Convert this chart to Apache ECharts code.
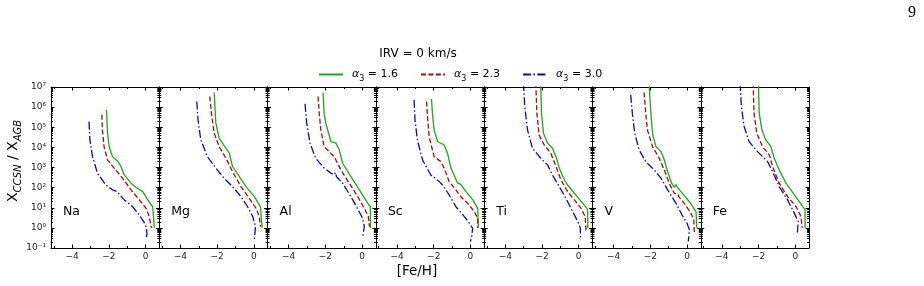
<!DOCTYPE html>
<html>
<head>
<meta charset="utf-8">
<script src="https://cdn.jsdelivr.net/npm/echarts@6/dist/echarts.min.js"></script>
<style>
  html, body { margin: 0; background: #fff; }
  #chart { width: 924px; height: 286px; }
</style>
</head>
<body>
<div id="chart"></div>
<script>
// panels, legend values, ticks
const elements = ['Na', 'Mg', 'Al', 'Sc', 'Ti', 'V', 'Fe'];
const alphaVals = ['1.6', '2.3', '3.0'];
const xMajorTicks = [-4, -2, 0];
const xMinorTicks = [-5, -3, -1];

// curves: [ [Fe/H], log10(X_CCSN / X_AGB) ]
const naG = [[-2.13,5.87],[-2.07,4.7],[-1.98,4.04],[-1.8,3.54],[-1.5,3.3],[-1.43,3.24],[-1.34,3.05],[-1.16,2.63],[-0.79,2.22],[-0.52,2.02],[-0.15,1.8],[0.12,1.39],[0.39,1.05],[0.48,0.97],[0.48,0]];
const naR = [[-2.38,5.62],[-2.35,4.87],[-2.26,4.04],[-2.07,3.38],[-1.71,2.97],[-1.25,2.47],[-0.79,1.89],[-0.34,1.39],[0.03,0.97],[0.21,0.56],[0.3,0.06],[0.35,0]];
const naB = [[-3.08,5.28],[-3.03,4.37],[-2.89,3.54],[-2.62,2.72],[-2.16,2.13],[-1.8,1.89],[-1.55,1.8],[-1.5,1.85],[-1.45,1.72],[-1.16,1.39],[-0.7,1.05],[-0.34,0.64],[-0.1,0.31],[0.03,0.06],[0.08,-0.27],[0.03,-0.57]];

const mgG = [[-2.16,6.73],[-2.07,5.2],[-1.89,4.46],[-1.52,3.96],[-1.34,3.71],[-1.16,3.05],[-0.79,2.55],[-0.43,2.05],[0.03,1.55],[0.36,1.05],[0.45,0.97],[0.45,0]];
const mgR = [[-2.4,6.53],[-2.31,5.7],[-2.16,4.7],[-1.89,4.04],[-1.52,3.46],[-1.16,2.8],[-0.7,2.05],[-0.25,1.47],[0.12,0.97],[0.3,0.56],[0.36,0.06]];
const mgB = [[-3.11,6.28],[-3.04,5.37],[-2.89,4.37],[-2.53,3.54],[-2.07,2.97],[-1.62,2.47],[-1.16,2.05],[-0.7,1.55],[-0.34,1.05],[-0.06,0.56],[0.09,0.06],[0.03,-0.57]];

const alG = [[-2.13,6.73],[-2.07,5.7],[-1.98,5.2],[-1.7,4.29],[-1.43,4.21],[-1.25,3.88],[-1.06,3.21],[-0.61,2.55],[-0.15,1.89],[0.31,1.22],[0.45,1.05],[0.45,0]];
const alR = [[-2.4,6.53],[-2.34,5.7],[-2.25,4.87],[-2.07,4.04],[-1.8,3.79],[-1.52,3.54],[-1.16,2.88],[-0.7,2.22],[-0.24,1.55],[0.12,0.97],[0.34,0.56],[0.4,0.06]];
const alB = [[-3.11,6.16],[-3.02,5.2],[-2.84,4.21],[-2.53,3.46],[-2.07,2.97],[-1.7,2.72],[-1.52,2.63],[-1.45,2.75],[-1.4,2.55],[-1.06,2.22],[-0.61,1.55],[-0.21,0.89],[0.03,0.47],[0.12,0.06],[0.03,-0.44]];

const scG = [[-2.12,6.4],[-2.07,5.7],[-1.98,4.87],[-1.79,4.29],[-1.43,4.12],[-1.25,3.71],[-1.06,2.97],[-0.7,2.22],[-0.55,2.18],[-0.52,2.1],[-0.24,1.8],[0.13,1.39],[0.4,0.97],[0.43,0.9],[0.43,0]];
const scR = [[-2.39,6.28],[-2.34,5.53],[-2.25,4.54],[-1.98,3.54],[-1.61,3.29],[-1.43,2.97],[-1.16,2.3],[-0.79,1.89],[-0.52,1.55],[-0.15,1.22],[0.21,0.81],[0.4,0.47],[0.4,0]];
const scB = [[-3.07,6.36],[-3.02,5.37],[-2.89,4.37],[-2.61,3.38],[-2.16,2.63],[-1.7,2.3],[-1.52,2.13],[-1.16,1.64],[-0.79,1.05],[-0.33,0.56],[-0.06,0.23],[0.12,-0.02],[0.07,-0.44],[0,-0.68]];

const tiG = [[-2.07,7.2],[-2.03,5.7],[-1.92,4.7],[-1.7,4.21],[-1.43,3.96],[-1.24,3.54],[-1.06,2.97],[-0.79,2.39],[-0.6,2.13],[-0.24,1.72],[0.22,1.22],[0.45,0.97],[0.49,0.8],[0.49,0]];
const tiR = [[-2.34,7.2],[-2.28,5.7],[-2.16,4.62],[-1.88,4.12],[-1.52,3.71],[-1.24,3.05],[-0.97,2.39],[-0.6,1.8],[-0.24,1.39],[0.13,0.97],[0.35,0.56],[0.4,-0.15]];
const tiB = [[-3.01,7.2],[-2.94,6.03],[-2.79,4.87],[-2.52,3.96],[-2.07,3.46],[-1.7,3.13],[-1.43,2.63],[-1.06,2.05],[-0.7,1.47],[-0.33,0.81],[-0.05,0.31],[0.09,-0.02],[0.09,-0.6]];

const vG = [[-2.07,7.2],[-1.97,5.7],[-1.88,4.7],[-1.7,4.04],[-1.42,3.79],[-1.24,3.38],[-1.06,2.8],[-0.84,2.22],[-0.7,2.02],[-0.6,2.15],[-0.55,2.05],[-0.33,1.8],[0.13,1.3],[0.49,0.81],[0.53,0.8],[0.53,0]];
const vR = [[-2.34,6.73],[-2.25,5.7],[-2.16,4.87],[-1.88,4.04],[-1.52,3.46],[-1.24,2.88],[-0.97,2.22],[-0.7,1.72],[-0.5,1.68],[-0.45,1.55],[-0.15,1.22],[0.22,0.72],[0.37,0.39],[0.4,-0.27]];
const vB = [[-3.07,6.61],[-2.98,5.7],[-2.85,4.7],[-2.61,3.88],[-2.25,3.29],[-1.79,2.88],[-1.42,2.47],[-1.06,1.89],[-0.6,1.22],[-0.27,0.64],[0,0.23],[0.13,-0.1],[0.07,-0.68]];

const feG = [[-2.01,7.2],[-1.97,5.7],[-1.82,4.87],[-1.61,4.37],[-1.33,4.04],[-1.15,3.46],[-0.88,2.88],[-0.51,2.22],[-0.05,1.64],[0.41,1.05],[0.53,0.89],[0.53,0]];
const feR = [[-2.3,7.2],[-2.25,5.7],[-2.1,4.7],[-1.79,4.04],[-1.42,3.63],[-1.24,3.05],[-0.88,2.22],[-0.42,1.55],[0.04,1.05],[0.31,0.56],[0.37,0]];
const feB = [[-3.01,7.2],[-2.94,6.03],[-2.79,5.04],[-2.52,4.29],[-2.06,3.79],[-1.51,3.29],[-1.24,2.8],[-0.88,2.05],[-0.42,1.39],[-0.05,0.72],[0.16,0.31],[0.1,-0.35]];

const curves = [
  [naG, naR, naB], [mgG, mgR, mgB], [alG, alR, alB], [scG, scR, scB],
  [tiG, tiR, tiB], [vG, vR, vB], [feG, feR, feB]
];

const colors = ['#1ea51e', '#a00c0c', '#0c0c9c'];
const dashes = ['solid', [5, 2.4], [8, 2.4, 1.5, 2.4]];
const names = alphaVals.map(a => 'α3 = ' + a);

// log-axis minor tick spots (2..9 x 10^n)
const yMinorTicks = [];
for (let n = -1; n < 7; n++) {
  for (let k = 2; k <= 9; k++) yMinorTicks.push(n + Math.log10(k));
}

const FONT = 'DejaVu Sans';
const gridLeft = 51, gridW = 108.3, gridTop = 87, gridH = 161;

const sup = {'-': '⁻', '0': '⁰', '1': '¹', '2': '²', '3': '³', '4': '⁴', '5': '⁵', '6': '⁶', '7': '⁷'};
const powLabel = v => '10' + String(Math.round(v)).split('').map(c => sup[c]).join('');

function xAxisOf(i, pos, ticks, len, major, labels) {
  return {
    type: 'value', gridIndex: i, position: pos, min: -5.15, max: 0.75,
    axisLine: {show: major, onZero: false, lineStyle: {color: '#000', width: 1}},
    axisTick: {show: true, inside: true, length: len, customValues: ticks, lineStyle: {color: '#000', width: 1}},
    axisLabel: {show: labels, customValues: ticks, margin: 4, fontSize: 9, color: '#222', fontFamily: FONT,
      formatter: v => String(v).replace('-', '−')},
    splitLine: {show: false}
  };
}

function yAxisOf(i, pos, len, major, labels) {
  const ax = {
    type: 'value', gridIndex: i, position: pos, min: -1, max: 7,
    axisLine: {show: major, onZero: false, lineStyle: {color: '#000', width: 1}},
    axisTick: {show: true, inside: true, length: len, lineStyle: {color: '#000', width: 1}},
    axisLabel: {show: labels, margin: 5, fontSize: 9, color: '#222', fontFamily: FONT, formatter: powLabel},
    splitLine: {show: false}
  };
  if (major) ax.interval = 1;
  else ax.axisTick.customValues = yMinorTicks;
  return ax;
}

const grid = [], xAxis = [], yAxis = [], series = [];
elements.forEach((el, i) => {
  grid.push({left: gridLeft + i * gridW, top: gridTop, width: gridW, height: gridH});
  xAxis.push(xAxisOf(i, 'bottom', xMajorTicks, 3.5, true, true));
  xAxis.push(xAxisOf(i, 'bottom', xMinorTicks, 2, false, false));
  xAxis.push(xAxisOf(i, 'top', xMajorTicks, 3.5, true, false));
  xAxis.push(xAxisOf(i, 'top', xMinorTicks, 2, false, false));
  yAxis.push(yAxisOf(i, 'left', 3.5, true, i === 0));
  yAxis.push(yAxisOf(i, 'left', 2, false, false));
  yAxis.push(yAxisOf(i, 'right', 3.5, true, false));
  yAxis.push(yAxisOf(i, 'right', 2, false, false));
  curves[i].forEach((d, k) => {
    series.push({
      type: 'line', name: names[k], xAxisIndex: 4 * i, yAxisIndex: 4 * i,
      data: d, symbol: 'none', showSymbol: false, clip: true,
      lineStyle: {color: colors[k], width: 1.3, type: dashes[k]},
      itemStyle: {color: colors[k]}
    });
  });
});

const graphic = [
  {type: 'text', x: 912, y: 13, style: {text: '9', font: '16px "Liberation Serif"', fill: '#000', align: 'center', verticalAlign: 'middle'}},
  {type: 'text', x: 418, y: 54, style: {text: 'IRV = 0 km/s', font: '12px "DejaVu Sans"', fill: '#000', align: 'center', verticalAlign: 'middle'}},
  {type: 'text', x: 417, y: 271, style: {text: '[Fe/H]', font: '13.5px "DejaVu Sans"', fill: '#000', align: 'center', verticalAlign: 'middle'}},
  {type: 'text', x: 13, y: 161, rotation: Math.PI / 2,
    style: {text: '{m|X}{s|CCSN}{m| / X}{s|AGB}', align: 'center', verticalAlign: 'middle', fill: '#000',
      rich: {
        m: {fontSize: 14, fontFamily: FONT, lineHeight: 20, fill: '#000'},
        s: {fontSize: 10, fontFamily: FONT, fontStyle: 'italic', lineHeight: 10, verticalAlign: 'bottom', fill: '#000'}
      }}}
];
elements.forEach((el, i) => {
  graphic.push({type: 'text', x: gridLeft + i * gridW + 12, y: 212,
    style: {text: el, font: '12.5px "DejaVu Sans"', fill: '#000', align: 'left', verticalAlign: 'middle'}});
});

const chart = echarts.init(document.getElementById('chart'), null, {renderer: 'canvas'});
chart.setOption({
  animation: false,
  backgroundColor: '#fff',
  grid, xAxis, yAxis, series, graphic,
  legend: {
    data: names, left: 313, top: 64, itemWidth: 24, itemHeight: 10, itemGap: 22,
    itemStyle: {opacity: 0},
    formatter: name => '{g|}{a|α}{s|3}{t| = ' + name.split('= ')[1] + '}',
    textStyle: {
      fontFamily: FONT, fontSize: 11, color: '#000',
      rich: {
        g: {width: 4},
        a: {fontSize: 11, fontStyle: 'italic', fontFamily: FONT, lineHeight: 16},
        s: {fontSize: 8, fontFamily: FONT, lineHeight: 8, verticalAlign: 'bottom'},
        t: {fontSize: 11, fontFamily: FONT, lineHeight: 16}
      }
    }
  }
});
</script>
</body>
</html>
